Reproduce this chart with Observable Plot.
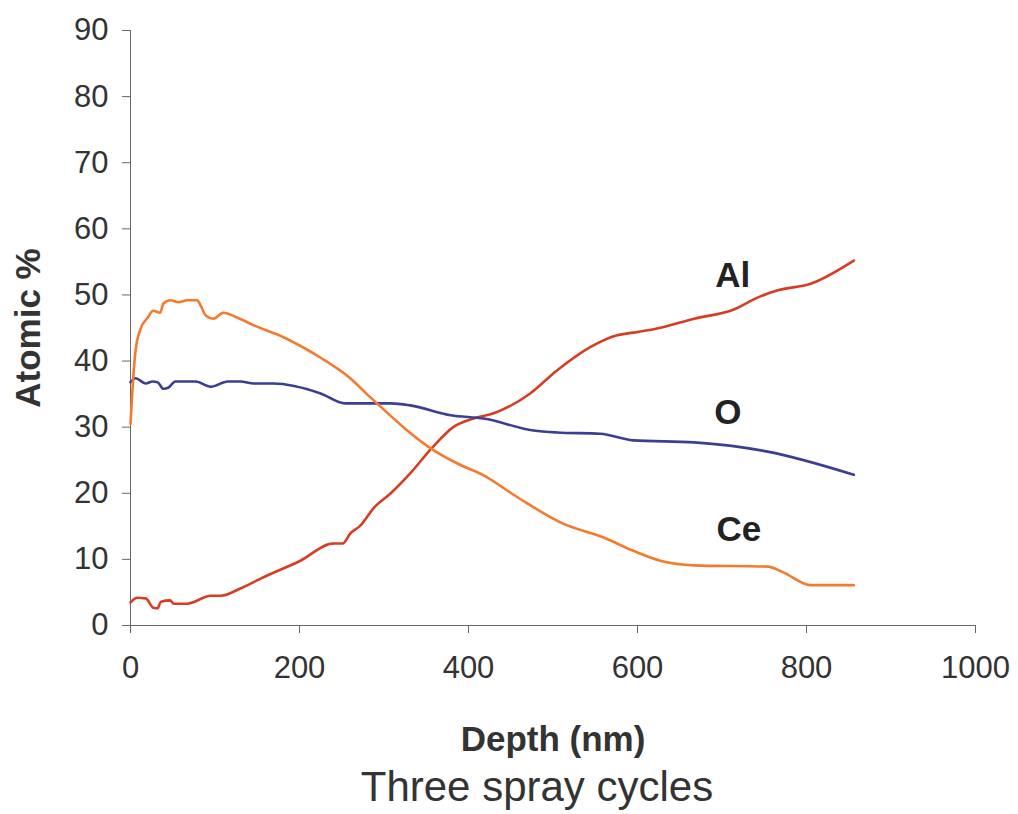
<!DOCTYPE html>
<html>
<head>
<meta charset="utf-8">
<script src="https://cdn.jsdelivr.net/npm/d3@7"></script>
<script src="https://cdn.jsdelivr.net/npm/@observablehq/plot@0.6"></script>
<style>
  body { margin: 0; background: #fff; }
  #chart { width: 1018px; font-family: "Liberation Sans", Arial, sans-serif; }
  #caption { font-size: 42px; line-height: 54px; color: #333; text-align: center; padding-left: 56px; box-sizing: border-box; width: 1018px; }
</style>
</head>
<body>
<div id="chart"></div>
<script>
// Depth profile: atomic concentration versus sputter depth
const alDepth = [0, 8, 18, 27, 32, 36, 47, 51, 67, 95, 107, 130, 154, 201, 240, 251, 260, 272, 288, 308, 331, 357, 382, 406, 430, 473, 505, 544, 576, 595, 619, 667, 714, 742, 766, 805, 856];
const alValue = [3.5, 4.2, 4.1, 2.7, 2.6, 3.6, 3.8, 3.3, 3.3, 4.5, 4.5, 5.6, 7.1, 9.8, 12.4, 12.4, 13.9, 15.1, 17.8, 20.0, 23.0, 26.9, 30.0, 31.3, 32.1, 35.1, 38.6, 42.1, 43.9, 44.3, 44.8, 46.4, 47.8, 49.6, 50.7, 51.7, 55.2];

const ceDepth = [0, 2, 6, 12, 20, 27, 35, 39, 47, 57, 67, 79, 83, 89, 98, 110, 126, 146, 181, 225, 260, 284, 359, 387, 418, 458, 512, 560, 595, 627, 667, 754, 773, 805, 856];
const ceValue = [30.5, 35, 41.6, 44.9, 46.5, 47.6, 47.3, 48.7, 49.2, 48.9, 49.2, 49.2, 48.4, 46.9, 46.4, 47.3, 46.6, 45.4, 43.6, 40.5, 37.4, 34.5, 26.5, 24.5, 22.7, 19.4, 15.4, 13.3, 11.3, 9.8, 9.1, 8.9, 8.0, 6.1, 6.1];

const oDepth = [0, 6, 18, 26, 32, 39, 45, 53, 77, 95, 115, 130, 146, 169, 225, 254, 308, 331, 379, 418, 477, 505, 556, 595, 667, 754, 856];
const oValue = [36.8, 37.4, 36.6, 36.9, 36.8, 35.8, 36.0, 36.9, 36.9, 36.1, 36.9, 36.9, 36.6, 36.6, 35.1, 33.6, 33.6, 33.3, 31.8, 31.3, 29.5, 29.2, 29.0, 28.0, 27.7, 26.3, 22.8];

const xTicks = [0, 200, 400, 600, 800, 1000];
const yTicks = [0, 10, 20, 30, 40, 50, 60, 70, 80, 90];

const series = [
  {name: "Al", depth: alDepth, value: alValue},
  {name: "O", depth: oDepth, value: oValue},
  {name: "Ce", depth: ceDepth, value: ceValue}
];

// Line colour and label offset (from the last point) for each element
const style = {
  Al: {color: "#d63d22", dx: -121, dy: 15},
  O:  {color: "#3b3f93", dx: -126, dy: -62},
  Ce: {color: "#f47a2e", dx: -115, dy: -55}
};

const rows = series.flatMap(s => s.depth.map((d, i) => ({element: s.name, depth: d, value: s.value[i]})));

const lineMarks = series.map(s => Plot.line(rows.filter(r => r.element === s.name), {
  x: "depth", y: "value", stroke: style[s.name].color, strokeWidth: 2.6, strokeLinejoin: "round", curve: "monotone-x"
}));

const labelMarks = series.map(s => Plot.text(rows.filter(r => r.element === s.name), Plot.selectLast({
  x: "depth", y: "value", text: "element", dx: style[s.name].dx, dy: style[s.name].dy,
  fontSize: 35, fontWeight: "bold", fill: "#222", textAnchor: "middle"
})));

const plot = Plot.plot({
  width: 1018,
  height: 760,
  marginLeft: 130,
  marginRight: 43,
  marginTop: 30,
  marginBottom: 135,
  style: {fontFamily: "'Liberation Sans', Arial, sans-serif", background: "#fff", color: "#333"},
  x: {domain: [0, 1000]},
  y: {domain: [0, 90]},
  marks: [
    Plot.axisX(xTicks, {tickSize: 8, tickPadding: 22, fontSize: 31, stroke: "#666", fill: "#333", tickFormat: "d",
      label: "Depth (nm)", labelAnchor: "center", labelArrow: "none", labelOffset: 125}),
    Plot.axisY(yTicks, {tickSize: 8, tickPadding: 14, fontSize: 31, stroke: "#666", fill: "#333", tickFormat: "d",
      label: "Atomic %", labelAnchor: "center", labelArrow: "none", labelOffset: 115}),
    Plot.ruleX([0], {stroke: "#666"}),
    Plot.ruleY([0], {stroke: "#666"}),
    ...lineMarks,
    ...labelMarks
  ]
});

// Bold, larger axis titles
plot.querySelectorAll("[aria-label$='axis label'] text, [aria-label$='axis label']").forEach(el => {
  el.setAttribute("font-weight", "bold");
  el.setAttribute("font-size", "35");
  el.setAttribute("fill", "#333");
});

const chart = document.getElementById("chart");
chart.appendChild(plot);
const caption = document.createElement("div");
caption.id = "caption";
caption.textContent = "Three spray cycles";
chart.appendChild(caption);
</script>
</body>
</html>
